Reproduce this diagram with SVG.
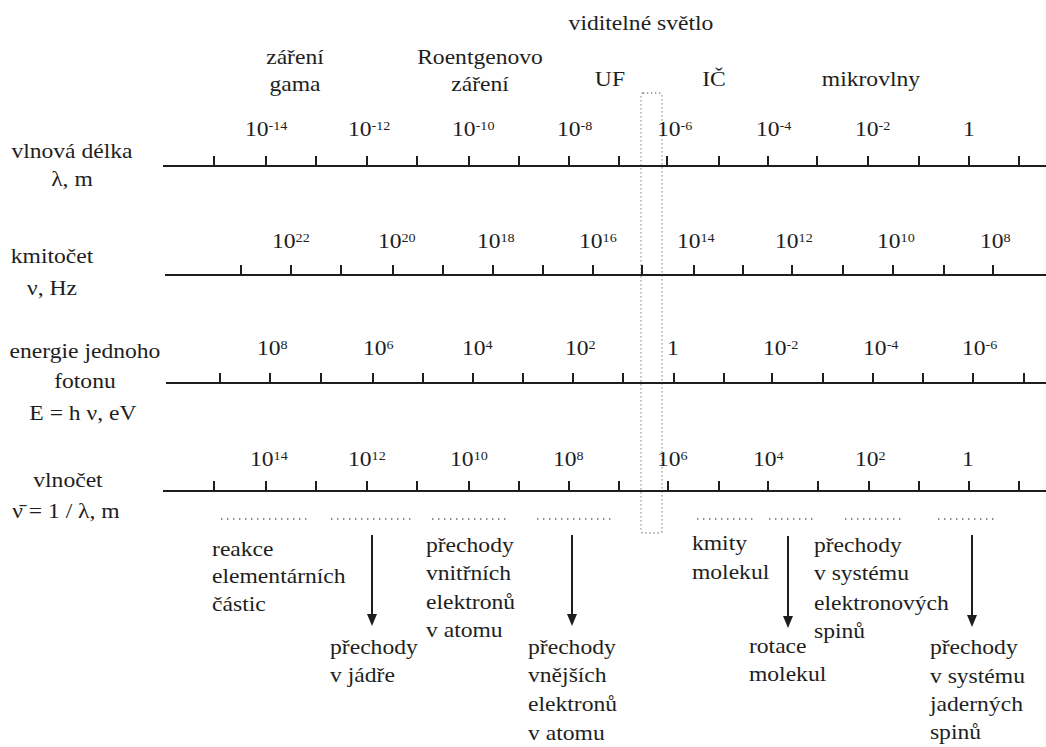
<svg xmlns="http://www.w3.org/2000/svg" width="1046" height="747" viewBox="0 0 1046 747">
<defs>
<style>
text{font-family:"Liberation Serif","Times New Roman",serif;font-size:20px;fill:#1e1e1e}
.m{text-anchor:middle}
.sup{font-size:12px}
.axis{stroke:#1e1e1e;stroke-width:2;fill:none}
.dot{stroke:#666;stroke-width:1.4;stroke-dasharray:1.4 4.6;fill:none}
.box{stroke:#888;stroke-width:1.3;stroke-dasharray:1.3 2.7;fill:none}
.arr{stroke:#1e1e1e;stroke-width:2;fill:none}
</style>
<marker id="ah" markerUnits="userSpaceOnUse" markerWidth="12" markerHeight="10" refX="0" refY="5" orient="auto" viewBox="0 0 12 10">
<path d="M0,0 L12,5 L0,10 z" fill="#1e1e1e"/>
</marker>
</defs>
<rect width="1046" height="747" fill="#fff"/>

<g id="visible-box"><rect class="box" x="641" y="93" width="21" height="440" rx="2"/></g>

<g id="axis-wavelength">
<path class="axis" d="M163,166H1046M214,156V166M266,156V166M316,156V166M367,156V166M417,156V166M469,156V166M519,156V166M569,156V166M619,156V166M667,156V166M719,156V166M768,156V166M817,156V166M868,156V166M919,156V166M969,156V166M1019,156V166"/>
</g>
<g id="axis-frequency">
<path class="axis" d="M165,275H1046M241,265V275M291,265V275M341,265V275M393,265V275M443,265V275M493,265V275M543,265V275M593,265V275M642,265V275M694,265V275M743,265V275M792,265V275M843,265V275M893,265V275M944,265V275M993,265V275"/>
</g>
<g id="axis-energy">
<path class="axis" d="M166,383H1046M220,373V383M270,373V383M321,373V383M373,373V383M423,373V383M473,373V383M523,373V383M573,373V383M623,373V383M674,373V383M724,373V383M772,373V383M823,373V383M873,373V383M923,373V383M973,373V383M1024,373V383"/>
</g>
<g id="axis-wavenumber">
<path class="axis" d="M163,491H1046M214,481V491M266,481V491M316,481V491M367,481V491M417,481V491M469,481V491M519,481V491M569,481V491M619,481V491M668,481V491M719,481V491M768,481V491M818,481V491M869,481V491M919,481V491M969,481V491M1019,481V491"/>
</g>

<g id="ranges">
<path class="dot" d="M221,519H308M331,519H414M432,519H509M537,519H613M697,519H754M769,519H815M845,519H901M938,519H996"/>
</g>

<g id="connectors">
<line class="arr" x1="372" y1="535" x2="372" y2="614" marker-end="url(#ah)"/>
<line class="arr" x1="572" y1="535" x2="572" y2="614" marker-end="url(#ah)"/>
<line class="arr" x1="788" y1="536" x2="788" y2="616" marker-end="url(#ah)"/>
<line class="arr" x1="972" y1="535" x2="972" y2="615" marker-end="url(#ah)"/>
</g>

<g transform="scale(1.18,1)">
<g id="band-labels">
<text class="m" x="543.2" y="30">viditelné světlo</text>
<text class="m" x="250" y="64">záření</text>
<text class="m" x="250" y="91">gama</text>
<text class="m" x="406.8" y="64">Roentgenovo</text>
<text class="m" x="406.8" y="91">záření</text>
<text class="m" x="516.9" y="86">UF</text>
<text class="m" x="605.1" y="86">IČ</text>
<text class="m" x="738.1" y="86">mikrovlny</text>
</g>

<g id="axis-titles">
<text class="m" x="61" y="158">vlnová délka</text>
<text class="m" x="61" y="186">λ, m</text>
<text class="m" x="44.1" y="263">kmitočet</text>
<text class="m" x="44.1" y="295">ν, Hz</text>
<text class="m" x="72" y="358">energie jednoho</text>
<text class="m" x="72" y="388">fotonu</text>
<text class="m" x="70.3" y="420">E = h ν, eV</text>
<text class="m" x="57.6" y="487">vlnočet</text>
<text class="m" x="55.9" y="518">ν̄ = 1 / λ, m</text>
</g>

<g id="wavelength-values">
<text x="207.6" y="136">10<tspan class="sup" dy="-6">-14</tspan></text>
<text x="294.9" y="136">10<tspan class="sup" dy="-6">-12</tspan></text>
<text x="383.1" y="136">10<tspan class="sup" dy="-6">-10</tspan></text>
<text x="472" y="136">10<tspan class="sup" dy="-6">-8</tspan></text>
<text x="556.8" y="136">10<tspan class="sup" dy="-6">-6</tspan></text>
<text x="640.7" y="136">10<tspan class="sup" dy="-6">-4</tspan></text>
<text x="724.6" y="136">10<tspan class="sup" dy="-6">-2</tspan></text>
<text x="816.1" y="136">1</text>
</g>

<g id="frequency-values">
<text x="230.5" y="248">10<tspan class="sup" dy="-6">22</tspan></text>
<text x="320.3" y="248">10<tspan class="sup" dy="-6">20</tspan></text>
<text x="404.2" y="248">10<tspan class="sup" dy="-6">18</tspan></text>
<text x="490.7" y="248">10<tspan class="sup" dy="-6">16</tspan></text>
<text x="573.7" y="248">10<tspan class="sup" dy="-6">14</tspan></text>
<text x="656.8" y="248">10<tspan class="sup" dy="-6">12</tspan></text>
<text x="743.2" y="248">10<tspan class="sup" dy="-6">10</tspan></text>
<text x="830.5" y="248">10<tspan class="sup" dy="-6">8</tspan></text>
</g>

<g id="energy-values">
<text x="217.8" y="355">10<tspan class="sup" dy="-6">8</tspan></text>
<text x="307.6" y="355">10<tspan class="sup" dy="-6">6</tspan></text>
<text x="391.5" y="355">10<tspan class="sup" dy="-6">4</tspan></text>
<text x="478.8" y="355">10<tspan class="sup" dy="-6">2</tspan></text>
<text x="565.3" y="355">1</text>
<text x="646.6" y="355">10<tspan class="sup" dy="-6">-2</tspan></text>
<text x="731.4" y="355">10<tspan class="sup" dy="-6">-4</tspan></text>
<text x="815.3" y="355">10<tspan class="sup" dy="-6">-6</tspan></text>
</g>

<g id="wavenumber-values">
<text x="211.9" y="466">10<tspan class="sup" dy="-6">14</tspan></text>
<text x="294.9" y="466">10<tspan class="sup" dy="-6">12</tspan></text>
<text x="381.4" y="466">10<tspan class="sup" dy="-6">10</tspan></text>
<text x="468.6" y="466">10<tspan class="sup" dy="-6">8</tspan></text>
<text x="556.8" y="466">10<tspan class="sup" dy="-6">6</tspan></text>
<text x="638.1" y="466">10<tspan class="sup" dy="-6">4</tspan></text>
<text x="724.6" y="466">10<tspan class="sup" dy="-6">2</tspan></text>
<text x="815.3" y="466">1</text>
</g>

<g id="node-reakce">
<text x="179.7" y="556">reakce</text>
<text x="179.7" y="583">elementárních</text>
<text x="179.7" y="611">částic</text>
</g>
<g id="node-jadro">
<text x="279.7" y="654">přechody</text>
<text x="279.7" y="682">v jádře</text>
</g>
<g id="node-vnitrni">
<text x="361" y="552">přechody</text>
<text x="361" y="580">vnitřních</text>
<text x="361" y="609">elektronů</text>
<text x="361" y="637">v atomu</text>
</g>
<g id="node-vnejsi">
<text x="447.5" y="654">přechody</text>
<text x="447.5" y="682">vnějších</text>
<text x="447.5" y="711">elektronů</text>
<text x="447.5" y="740">v atomu</text>
</g>
<g id="node-kmity">
<text x="586.4" y="550">kmity</text>
<text x="586.4" y="579">molekul</text>
</g>
<g id="node-rotace">
<text x="634.7" y="653">rotace</text>
<text x="634.7" y="681">molekul</text>
</g>
<g id="node-elektronove-spiny">
<text x="689.8" y="552">přechody</text>
<text x="689.8" y="580">v systému</text>
<text x="689.8" y="610">elektronových</text>
<text x="689.8" y="638">spinů</text>
</g>
<g id="node-jaderne-spiny">
<text x="788.1" y="654">přechody</text>
<text x="788.1" y="683">v systému</text>
<text x="788.1" y="711">jaderných</text>
<text x="788.1" y="739">spinů</text>
</g>
</g>
</svg>
